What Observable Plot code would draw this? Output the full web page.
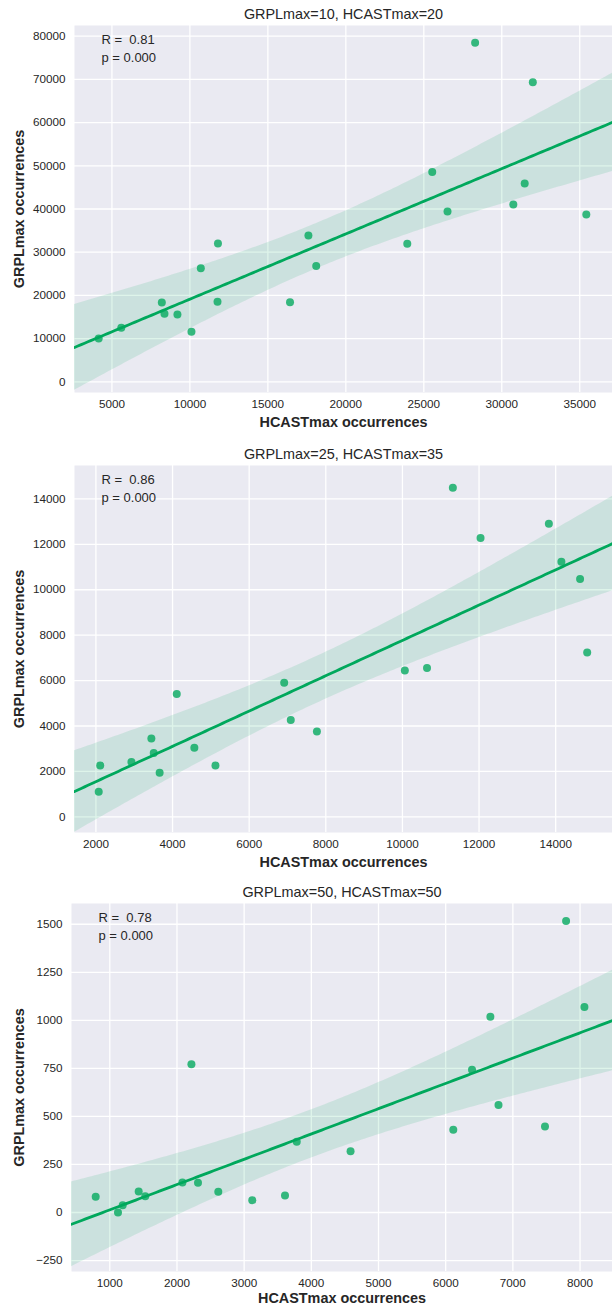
<!DOCTYPE html>
<html>
<head>
<meta charset="utf-8">
<script src="https://cdn.jsdelivr.net/npm/d3@7"></script>
<script src="https://cdn.jsdelivr.net/npm/@observablehq/plot@0.6"></script>
<style>
  html, body { margin: 0; padding: 0; background: #ffffff; }
  #chart { width: 612px; }
  #chart svg { display: block; }
</style>
</head>
<body>
<div id="chart"></div>
<script>
// ---------- data ----------
const titles = ["GRPLmax=10, HCASTmax=20", "GRPLmax=25, HCASTmax=35", "GRPLmax=50, HCASTmax=50"];
const rLabels = ["R =  0.81", "R =  0.86", "R =  0.78"];
const pLabels = ["p = 0.000", "p = 0.000", "p = 0.000"];
const xLabel = "HCASTmax occurrences";
const yLabel = "GRPLmax occurrences";

// panel 1
const hcast1 = [28290, 31990, 25540, 31470, 26520, 30740, 35420, 17600, 11800, 23940, 10700, 18100, 8200, 11770, 16420, 8370, 9200, 5600, 10100, 4150];
const grpl1  = [78470, 69370, 48540, 45900, 39420, 41050, 38730, 33870, 32010, 31940, 26310, 26780, 18360, 18520, 18440, 15740, 15580, 12500, 11570, 10020];
// panel 2
const hcast2 = [11316, 12039, 13822, 14149, 14637, 14822, 10063, 10642, 6914, 4110, 7086, 7768, 3447, 4569, 3509, 2927, 2112, 5120, 3663, 2073];
const grpl2  = [14493, 12278, 12907, 11233, 10471, 7238, 6445, 6550, 5903, 5405, 4260, 3758, 3449, 3040, 2806, 2410, 2260, 2260, 1938, 1101];
// panel 3
const hcast3 = [7792, 8065, 6665, 2215, 6392, 6786, 7478, 6113, 3783, 4584, 2081, 2313, 2615, 1430, 3608, 1528, 790, 3121, 1192, 1122];
const grpl3  = [1517, 1069, 1019, 771, 743, 559, 448, 431, 368, 319, 156, 155, 108, 109, 89, 85, 82, 64, 38, 0];

// tick values
const xTicks1 = [5000, 10000, 15000, 20000, 25000, 30000, 35000];
const yTicks1 = [0, 10000, 20000, 30000, 40000, 50000, 60000, 70000, 80000];
const xTicks2 = [2000, 4000, 6000, 8000, 10000, 12000, 14000];
const yTicks2 = [0, 2000, 4000, 6000, 8000, 10000, 12000, 14000];
const xTicks3 = [1000, 2000, 3000, 4000, 5000, 6000, 7000, 8000];
const yTicks3 = [-250, 0, 250, 500, 750, 1000, 1250, 1500];

// axis limits
const xDom1 = [2600, 37100], yDom1 = [-2480, 82480];
const xDom2 = [1441, 15483], yDom2 = [-690, 15470];
const xDom3 = [430, 8483],   yDom3 = [-307, 1608];

// ---------- styling ----------
const GREEN = "#00a85c";
const BG = "#eaeaf2";
const INK = "#262626";
const FONT = "'Liberation Sans', Arial, Helvetica, sans-serif";

// least-squares fit with 95% confidence band (as seaborn regplot draws)
function regression(xs, ys, domain, steps = 160) {
  const n = xs.length;
  const mx = d3.mean(xs), my = d3.mean(ys);
  let sxx = 0, sxy = 0;
  for (let i = 0; i < n; i++) { sxx += (xs[i] - mx) ** 2; sxy += (xs[i] - mx) * (ys[i] - my); }
  const b = sxy / sxx, a = my - b * mx;
  let sse = 0;
  for (let i = 0; i < n; i++) sse += (ys[i] - (a + b * xs[i])) ** 2;
  const s = Math.sqrt(sse / (n - 2));
  const t = 2.1009; // t(0.975, df = 18)
  const out = [];
  for (let k = 0; k <= steps; k++) {
    const x = domain[0] + (domain[1] - domain[0]) * k / steps;
    const fit = a + b * x;
    const half = t * s * Math.sqrt(1 / n + (x - mx) ** 2 / sxx);
    out.push({x, fit, lo: fit - half, hi: fit + half});
  }
  return out;
}

const fmt = d => (d < 0 ? "\u2212" + Math.abs(d) : String(d));

function panel(o) {
  const pts = o.xs.map((x, i) => ({x, y: o.ys[i]}));
  const reg = regression(o.xs, o.ys, o.xDomain);
  return Plot.plot({
    width: 612,
    height: o.marginTop + o.plotH + o.marginBottom,
    marginTop: o.marginTop,
    marginBottom: o.marginBottom,
    marginLeft: o.marginLeft,
    marginRight: 0,
    style: {fontFamily: FONT, fontSize: "11.7px", color: INK, background: "transparent", overflow: "visible"},
    x: {domain: o.xDomain, label: null},
    y: {domain: o.yDomain, label: null},
    marks: [
      Plot.frame({fill: BG, stroke: null}),
      Plot.gridX(o.xTicks, {stroke: "#ffffff", strokeOpacity: 1, strokeWidth: 1.3}),
      Plot.gridY(o.yTicks, {stroke: "#ffffff", strokeOpacity: 1, strokeWidth: 1.3}),
      Plot.axisX(o.xTicks, {tickSize: 0, tickPadding: 7, tickFormat: fmt, fill: INK, fontSize: 11.7}),
      Plot.axisY(o.yTicks, {tickSize: 0, tickPadding: 9, tickFormat: fmt, fill: INK, fontSize: 11.7}),
      Plot.dot(pts, {x: "x", y: "y", r: 4, fill: GREEN, fillOpacity: 0.78, stroke: null}),
      Plot.areaY(reg, {x: "x", y1: "lo", y2: "hi", fill: GREEN, fillOpacity: 0.13, clip: true}),
      Plot.line(reg, {x: "x", y: "fit", stroke: GREEN, strokeWidth: 2.8, clip: true}),
      Plot.text([o.title], {frameAnchor: "top", dy: -11, lineAnchor: "middle", fontSize: 14.4, fill: INK}),
      Plot.text([o.rText], {frameAnchor: "top-left", dx: 27, dy: 14, textAnchor: "start", lineAnchor: "middle", fontSize: 13, fill: INK}),
      Plot.text([o.pText], {frameAnchor: "top-left", dx: 27, dy: 32, textAnchor: "start", lineAnchor: "middle", fontSize: 13, fill: INK}),
      Plot.text([xLabel], {frameAnchor: "bottom", dy: o.xLabelDy, lineAnchor: "middle", fontSize: 14.4, fontWeight: "bold", fill: INK}),
      Plot.text([yLabel], {frameAnchor: "left", dx: 19 - o.marginLeft, rotate: -90, textAnchor: "middle", lineAnchor: "middle", fontSize: 14.4, fontWeight: "bold", fill: INK})
    ]
  });
}

const chart = document.getElementById("chart");
chart.append(panel({xs: hcast1, ys: grpl1, xDomain: xDom1, yDomain: yDom1, xTicks: xTicks1, yTicks: yTicks1,
  title: titles[0], rText: rLabels[0], pText: pLabels[0], marginTop: 25, plotH: 367, marginBottom: 45, marginLeft: 74, xLabelDy: 30}));
chart.append(panel({xs: hcast2, ys: grpl2, xDomain: xDom2, yDomain: yDom2, xTicks: xTicks2, yTicks: yTicks2,
  title: titles[1], rText: rLabels[1], pText: pLabels[1], marginTop: 28, plotH: 367, marginBottom: 42, marginLeft: 74, xLabelDy: 30}));
chart.append(panel({xs: hcast3, ys: grpl3, xDomain: xDom3, yDomain: yDom3, xTicks: xTicks3, yTicks: yTicks3,
  title: titles[2], rText: rLabels[2], pText: pLabels[2], marginTop: 29, plotH: 368, marginBottom: 35, marginLeft: 71, xLabelDy: 27}));
</script>
</body>
</html>
